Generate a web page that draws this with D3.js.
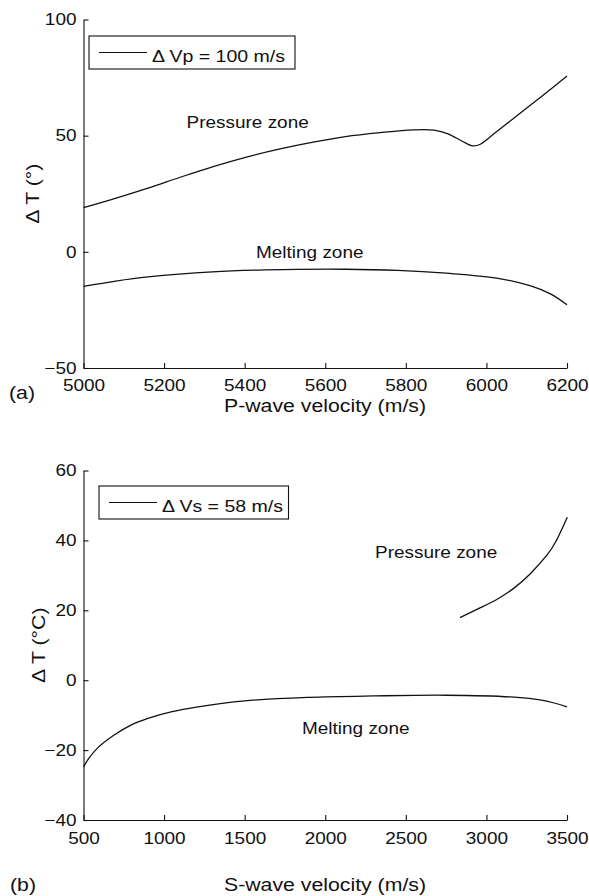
<!DOCTYPE html>
<html>
<head>
<meta charset="utf-8">
<script src="https://cdn.jsdelivr.net/npm/d3@7/dist/d3.min.js"></script>
<style>
  html, body { margin: 0; padding: 0; background: #fff; }
  svg { display: block; }
  text { font-family: "Liberation Sans", Arial, Helvetica, sans-serif; fill: #111; }
</style>
</head>
<body>
<svg id="chart" width="589" height="896"></svg>
<script>
// Panel (a): temperature change vs P-wave velocity
const pTicksX = [5000, 5200, 5400, 5600, 5800, 6000, 6200];
const pTicksY = [-50, 0, 50, 100];
const pPressureVel = [5000, 5075, 5160, 5240, 5320, 5400, 5488, 5570, 5650, 5736, 5818, 5870, 5905, 5940, 5966, 5985, 6025, 6067, 6108, 6150, 6200];
const pPressureDT  = [19.0, 22.8, 27.4, 32.1, 36.6, 40.6, 44.3, 47.2, 49.6, 51.3, 52.5, 52.4, 50.8, 47.6, 45.6, 46.3, 51.7, 57.4, 63.0, 68.7, 75.7];
const pMeltingVel  = [5000, 5080, 5160, 5320, 5450, 5650, 5780, 5900, 6025, 6110, 6160, 6200];
const pMeltingDT   = [-14.9, -12.6, -10.8, -8.6, -7.8, -7.5, -8.0, -9.2, -11.3, -14.7, -18.2, -22.8];

// Panel (b): temperature change vs S-wave velocity
const sTicksX = [500, 1000, 1500, 2000, 2500, 3000, 3500];
const sTicksY = [-40, -20, 0, 20, 40, 60];
const sPressureVel = [2836, 2960, 3064, 3167, 3271, 3374, 3436, 3502];
const sPressureDT  = [17.9, 20.7, 23.1, 26.2, 30.4, 35.7, 40.1, 46.6];
const sMeltingVel  = [500, 533, 585, 690, 800, 900, 1050, 1200, 1500, 1900, 2300, 2750, 3150, 3350, 3500];
const sMeltingDT   = [-24.8, -22.4, -19.5, -15.7, -12.7, -10.9, -9.0, -7.7, -5.9, -4.9, -4.5, -4.3, -4.8, -5.8, -7.6];

const SX = 1.15;          // horizontal glyph stretch
const FONT_TICK = 16.5;
const FONT_LABEL = 18.5;

const svg = d3.select("#chart");

function stretchedText(g, x, y, str, size, anchor, rotate) {
  return g.append("text")
    .attr("transform", `translate(${x},${y})` + (rotate ? ` rotate(${rotate})` : "") + ` scale(${SX},1)`)
    .attr("text-anchor", anchor || "start")
    .style("font-size", size + "px")
    .text(str);
}

function panel(cfg) {
  const g = svg.append("g");
  const x = d3.scaleLinear().domain(cfg.xDomain).range([83.5, 567]);
  const y = d3.scaleLinear().domain(cfg.yDomain).range([cfg.yBottom, cfg.yTop]);

  const xAxis = g.append("g")
    .attr("transform", `translate(0,${cfg.yBottom})`)
    .call(d3.axisBottom(x).tickValues(cfg.xTicks).tickFormat(d3.format("d"))
      .tickSizeInner(-5).tickSizeOuter(0).tickPadding(cfg.xTickPad));
  xAxis.selectAll("text").attr("transform", `scale(${SX},1)`).style("font-size", FONT_TICK + "px");

  const yAxis = g.append("g")
    .attr("transform", "translate(83.5,0)")
    .call(d3.axisLeft(y).tickValues(cfg.yTicks).tickFormat(d3.format("d"))
      .tickSizeInner(-5).tickSizeOuter(0).tickPadding(7));
  yAxis.selectAll("text").attr("x", -7 / SX).attr("transform", `scale(${SX},1)`).style("font-size", FONT_TICK + "px");

  [xAxis, yAxis].forEach(a => {
    a.selectAll("path, line").attr("stroke", "#111").attr("stroke-width", 1.1);
    a.selectAll("text").attr("fill", "#111").style("font-family", "'Liberation Sans', Arial, sans-serif");
  });

  cfg.series.forEach(s => {
    const line = d3.line().x(d => x(d[0])).y(d => y(d[1]))
      .curve(s.curve || d3.curveCatmullRom.alpha(0.5));
    g.append("path")
      .datum(d3.zip(s.vel, s.dt))
      .attr("fill", "none").attr("stroke", "#111").attr("stroke-width", 1.3)
      .attr("d", line);
  });

  cfg.notes.forEach(n => stretchedText(g, n.x, n.y, n.text, FONT_TICK, "start"));

  // legend
  const L = cfg.legend;
  g.append("rect").attr("x", L.x).attr("y", L.y).attr("width", L.w).attr("height", L.h)
    .attr("fill", "#fff").attr("stroke", "#111").attr("stroke-width", 1.1);
  g.append("line").attr("x1", L.x + 10).attr("x2", L.x + 58)
    .attr("y1", L.y + 16.5).attr("y2", L.y + 16.5).attr("stroke", "#111").attr("stroke-width", 1.2);
  stretchedText(g, L.x + 63, L.y + 25.5, L.text, 17, "start");

  stretchedText(g, cfg.yLabelX, (cfg.yTop + cfg.yBottom) / 2, cfg.yLabel, FONT_LABEL, "middle", -90);
  stretchedText(g, 325, cfg.xLabelY, cfg.xLabel, FONT_LABEL, "middle");
  stretchedText(g, cfg.tagX, cfg.tagY, cfg.tag, FONT_LABEL, "start");
}

panel({
  xDomain: [5000, 6200], yDomain: [-50, 100], yTop: 19.5, yBottom: 368,
  xTicks: pTicksX, yTicks: pTicksY, xTickPad: 11,
  series: [{ vel: pPressureVel, dt: pPressureDT }, { vel: pMeltingVel, dt: pMeltingDT }],
  notes: [{ x: 186.5, y: 128, text: "Pressure zone" }, { x: 256, y: 258, text: "Melting zone" }],
  legend: { x: 89, y: 36, w: 206, h: 33, text: "\u0394 Vp = 100 m/s" },
  yLabel: "\u0394 T (\u00b0)", yLabelX: 39,
  xLabel: "P-wave velocity (m/s)", xLabelY: 412,
  tag: "(a)", tagX: 9, tagY: 399
});

panel({
  xDomain: [500, 3500], yDomain: [-40, 60], yTop: 470.5, yBottom: 820,
  xTicks: sTicksX, yTicks: sTicksY, xTickPad: 12,
  series: [{ vel: sPressureVel, dt: sPressureDT, curve: d3.curveNatural }, { vel: sMeltingVel, dt: sMeltingDT }],
  notes: [{ x: 375, y: 558, text: "Pressure zone" }, { x: 302, y: 734, text: "Melting zone" }],
  legend: { x: 99, y: 486, w: 189.5, h: 33, text: "\u0394 Vs = 58 m/s" },
  yLabel: "\u0394 T (\u00b0C)", yLabelX: 45,
  xLabel: "S-wave velocity (m/s)", xLabelY: 891,
  tag: "(b)", tagX: 10, tagY: 891
});
</script>
</body>
</html>
